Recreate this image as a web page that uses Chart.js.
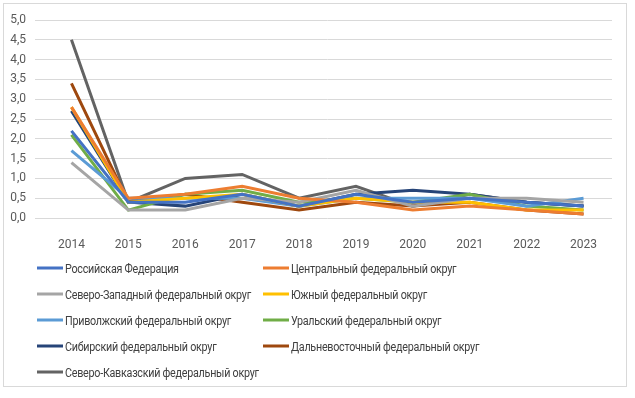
<!DOCTYPE html>
<html><head><meta charset="utf-8">
<script src="https://cdn.jsdelivr.net/npm/chart.js@4"></script>
<style>
html,body{margin:0;padding:0;background:#fff;}
#wrap{position:relative;width:635px;height:398px;}
#frame{position:absolute;left:3px;top:3px;width:624px;height:384px;border:1px solid #d9d9d9;box-sizing:border-box;}
canvas{position:absolute;left:0;top:0;}
#legend{position:absolute;left:0;top:0;width:635px;height:398px;font-family:"Roboto",sans-serif;font-size:12.5px;letter-spacing:-0.3px;color:#404040;}
.item{position:absolute;display:flex;align-items:center;white-space:nowrap;transform:translateY(-50%);}
.swatch{width:26px;height:3px;margin-right:2px;flex:none;}
.txt{display:inline-block;transform:scaleX(0.86);transform-origin:left center;}
</style></head>
<body><div id="wrap"><div id="frame"></div><canvas id="c" width="635" height="398"></canvas><div id="legend"></div></div>
<script>
const years = ["2014","2015","2016","2017","2018","2019","2020","2021","2022","2023"];
const seriesNames = [
 "Российская Федерация","Центральный федеральный округ","Северо-Западный федеральный округ",
 "Южный федеральный округ","Приволжский федеральный округ","Уральский федеральный округ",
 "Сибирский федеральный округ","Дальневосточный федеральный округ","Северо-Кавказский федеральный округ"];
const rf      = [2.2,0.4,0.4,0.6,0.3,0.6,0.4,0.5,0.4,0.3];
const central = [2.8,0.5,0.6,0.8,0.5,0.4,0.2,0.3,0.2,0.1];
const nw      = [1.4,0.2,0.2,0.5,0.4,0.7,0.3,0.5,0.5,0.4];
const south   = [2.8,0.4,0.5,0.6,0.3,0.5,0.4,0.4,0.2,0.2];
const volga   = [1.7,0.5,0.5,0.5,0.3,0.5,0.5,0.5,0.3,0.5];
const ural    = [2.1,0.2,0.6,0.7,0.4,0.5,0.4,0.6,0.3,0.2];
const siberia = [2.7,0.4,0.3,0.6,0.3,0.6,0.7,0.6,0.4,0.3];
const fareast = [3.4,0.4,0.6,0.4,0.2,0.4,0.3,0.4,0.2,0.1];
const ncauc   = [4.5,0.4,1.0,1.1,0.5,0.8,0.3,0.6,0.4,0.3];
const yTicks = [0,0.5,1,1.5,2,2.5,3,3.5,4,4.5,5];
const colors = ["#4472C4","#ED7D31","#A5A5A5","#FFC000","#5B9BD5","#70AD47","#264478","#9E480E","#636363"];
const values = [rf,central,nw,south,volga,ural,siberia,fareast,ncauc];

const datasets = values.map((v,i)=>({label:seriesNames[i],data:v,borderColor:colors[i],backgroundColor:colors[i],
  borderWidth:3,pointRadius:0,tension:0,fill:false}));

const tickFont={family:'Roboto',size:12};
new Chart(document.getElementById('c'),{
 type:'line',
 data:{labels:years,datasets},
 options:{responsive:false,animation:false,
  layout:{padding:{left:0,right:23,top:20,bottom:150}},
  plugins:{legend:{display:false},tooltip:{enabled:false}},
  scales:{
   x:{offset:true,grid:{display:false},border:{display:false},
      afterFit:s=>{s.height=30;},
      ticks:{color:'#595959',font:tickFont,padding:12,maxRotation:0}},
   y:{min:0,max:5,afterBuildTicks:ax=>{ax.ticks=yTicks.map(v=>({value:v}));},
      afterFit:s=>{s.width=43;},
      grid:{color:'#d9d9d9',lineWidth:1},border:{display:false},
      ticks:{color:'#595959',font:tickFont,padding:9,
        callback:v=>Number(v).toFixed(1).replace('.',',')}}
  }}
});

const leg=document.getElementById('legend');
const colX=[37,263], rowY=[268,294,320,346,372];
seriesNames.forEach((n,i)=>{
  const d=document.createElement('div');d.className='item';
  d.style.left=colX[i%2]+'px';d.style.top=rowY[Math.floor(i/2)]+'px';
  d.innerHTML='<span class="swatch" style="background:'+colors[i]+'"></span><span class="txt">'+n+'</span>';
  leg.appendChild(d);
});
</script></body></html>
